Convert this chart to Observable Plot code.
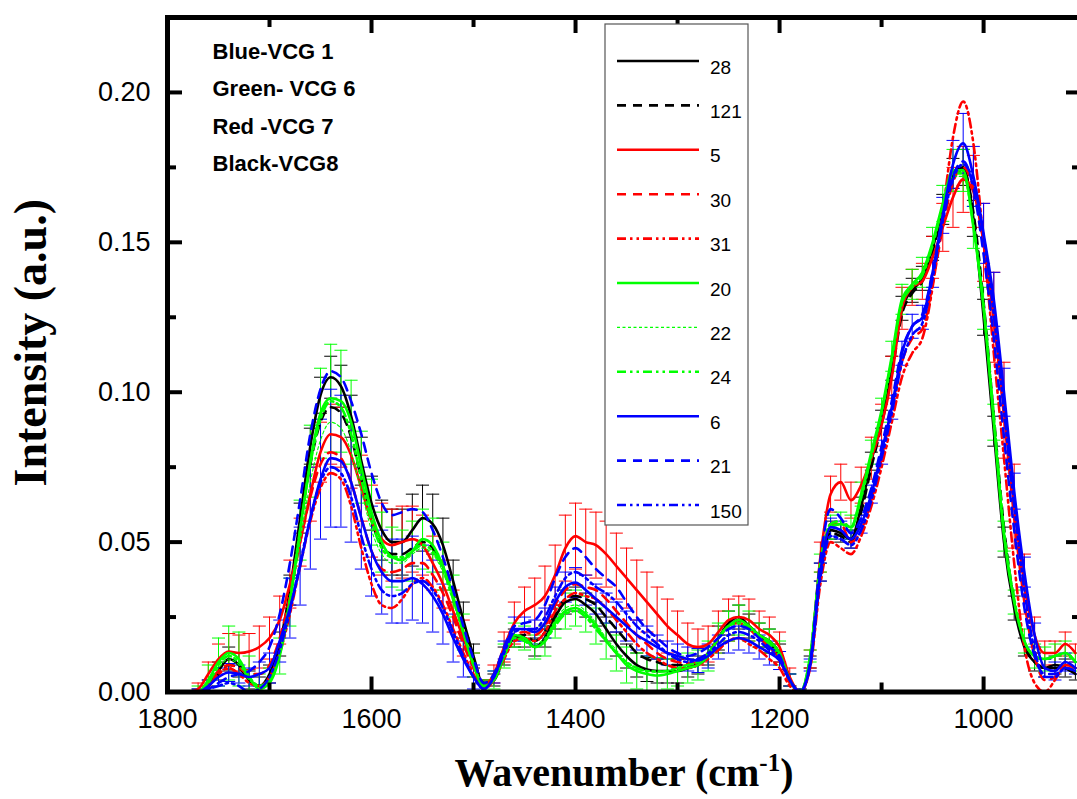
<!DOCTYPE html>
<html>
<head>
<meta charset="utf-8">
<script src="https://cdn.jsdelivr.net/npm/d3@7"></script>
<script src="https://cdn.jsdelivr.net/npm/@observablehq/plot@0.6"></script>
<style>
  html, body { margin: 0; padding: 0; background: #fff; }
  #chart { width: 1077px; height: 799px; overflow: hidden; }
</style>
</head>
<body>
<div id="chart"></div>
<script>
// Wavenumber grid (cm-1), shared by every spectrum
const wavenumber = [
  1780,1770,1760,1750,1740,1730,1720,1710,1700,1690,
  1680,1670,1660,1650,1640,1630,1620,1610,1600,1590,
  1580,1570,1560,1550,1540,1530,1520,1510,1500,1490,
  1480,1470,1460,1450,1440,1430,1420,1410,1400,1390,
  1380,1370,1360,1350,1340,1330,1320,1310,1300,1290,
  1280,1270,1260,1250,1240,1230,1220,1210,1200,1190,
  1180,1170,1160,1150,1140,1130,1120,1110,1100,1090,
  1080,1070,1060,1050,1040,1030,1020,1010,1000,990,
  980,970,960,950,940,930,920,910
];

// Mean intensity (a.u.) of each isolate
const isolate28 = [
  0,0.000,0.002,0.007,0.011,0.009,0.004,0.002,0.006,0.016,
  0.034,0.058,0.082,0.099,0.105,0.102,0.092,0.077,0.063,0.054,
  0.050,0.050,0.054,0.058,0.056,0.049,0.037,0.024,0.012,0.002,
  0.004,0.012,0.018,0.018,0.015,0.018,0.025,0.030,0.031,0.029,
  0.026,0.021,0.016,0.012,0.009,0.0075,0.007,0.007,0.007,0.008,
  0.009,0.012,0.018,0.023,0.025,0.022,0.019,0.017,0.013,0.004,
  0.000,0.010,0.040,0.054,0.053,0.051,0.062,0.077,0.091,0.108,
  0.128,0.134,0.138,0.148,0.161,0.173,0.175,0.158,0.125,0.087,
  0.050,0.028,0.015,0.010,0.008,0.009,0.008,0.006
];
const isolate121 = [
  0,0.000,0.002,0.006,0.009,0.008,0.004,0.002,0.005,0.015,
  0.032,0.055,0.076,0.090,0.095,0.093,0.085,0.071,0.057,0.049,
  0.046,0.046,0.048,0.050,0.048,0.042,0.033,0.022,0.011,0.003,
  0.004,0.012,0.018,0.019,0.017,0.020,0.026,0.031,0.032,0.031,
  0.029,0.025,0.021,0.017,0.013,0.011,0.010,0.009,0.009,0.009,
  0.010,0.013,0.018,0.022,0.024,0.022,0.019,0.016,0.012,0.004,
  0.000,0.010,0.041,0.053,0.052,0.050,0.060,0.075,0.089,0.106,
  0.126,0.133,0.137,0.147,0.160,0.172,0.174,0.160,0.130,0.092,
  0.055,0.030,0.016,0.010,0.008,0.008,0.008,0.006
];
const isolate5 = [
  0,0.001,0.006,0.011,0.0135,0.013,0.0135,0.015,0.018,0.024,
  0.036,0.050,0.066,0.080,0.086,0.085,0.079,0.068,0.057,0.051,
  0.049,0.050,0.051,0.049,0.043,0.036,0.027,0.018,0.009,0.002,
  0.006,0.015,0.023,0.027,0.029,0.032,0.039,0.048,0.052,0.050,
  0.049,0.046,0.042,0.038,0.034,0.030,0.026,0.022,0.019,0.016,
  0.015,0.016,0.020,0.024,0.025,0.024,0.021,0.019,0.015,0.005,
  0.000,0.011,0.045,0.066,0.070,0.064,0.069,0.078,0.089,0.105,
  0.128,0.135,0.137,0.145,0.155,0.165,0.171,0.167,0.150,0.125,
  0.094,0.062,0.036,0.019,0.013,0.013,0.016,0.013
];
const isolate30 = [
  0,0.000,0.003,0.007,0.009,0.008,0.006,0.006,0.009,0.018,
  0.032,0.050,0.065,0.076,0.080,0.078,0.070,0.058,0.047,0.041,
  0.040,0.041,0.043,0.043,0.039,0.033,0.025,0.016,0.008,0.002,
  0.005,0.013,0.019,0.020,0.019,0.022,0.029,0.034,0.036,0.035,
  0.034,0.031,0.027,0.023,0.019,0.016,0.013,0.011,0.010,0.0095,
  0.010,0.013,0.018,0.022,0.023,0.021,0.018,0.015,0.011,0.003,
  0.000,0.009,0.040,0.056,0.056,0.050,0.054,0.064,0.078,0.094,
  0.110,0.118,0.121,0.136,0.155,0.170,0.175,0.168,0.150,0.124,
  0.092,0.058,0.030,0.012,0.004,0.005,0.009,0.008
];
const isolate31 = [
  0,0.000,0.002,0.006,0.008,0.006,0.003,0.002,0.005,0.013,
  0.026,0.042,0.057,0.068,0.073,0.071,0.062,0.048,0.036,0.029,
  0.028,0.031,0.036,0.038,0.035,0.029,0.021,0.013,0.006,0.001,
  0.004,0.011,0.017,0.018,0.017,0.020,0.027,0.031,0.033,0.032,
  0.031,0.028,0.024,0.020,0.016,0.013,0.011,0.009,0.008,0.008,
  0.009,0.011,0.014,0.017,0.018,0.016,0.014,0.011,0.008,0.002,
  0.000,0.008,0.036,0.050,0.048,0.046,0.052,0.062,0.075,0.090,
  0.105,0.113,0.118,0.135,0.160,0.185,0.197,0.183,0.150,0.113,
  0.078,0.043,0.015,0.003,0.000,0.004,0.009,0.008
];
const isolate20 = [
  0,0.000,0.004,0.010,0.013,0.011,0.005,0.001,0.003,0.012,
  0.030,0.054,0.077,0.093,0.098,0.097,0.090,0.075,0.060,0.050,
  0.045,0.044,0.047,0.051,0.049,0.042,0.032,0.020,0.009,0.002,
  0.004,0.012,0.019,0.018,0.015,0.017,0.023,0.027,0.028,0.026,
  0.022,0.017,0.013,0.009,0.007,0.006,0.0055,0.006,0.007,0.008,
  0.009,0.012,0.018,0.022,0.024,0.022,0.019,0.017,0.013,0.004,
  0.000,0.012,0.043,0.055,0.056,0.055,0.066,0.080,0.094,0.112,
  0.131,0.136,0.140,0.150,0.163,0.174,0.174,0.155,0.128,0.090,
  0.052,0.030,0.017,0.012,0.011,0.012,0.013,0.010
];
const isolate22 = [
  0,0.000,0.003,0.008,0.011,0.009,0.004,0.002,0.004,0.013,
  0.029,0.050,0.070,0.084,0.090,0.088,0.080,0.067,0.054,0.046,
  0.043,0.043,0.046,0.048,0.046,0.040,0.030,0.019,0.009,0.002,
  0.004,0.012,0.018,0.018,0.016,0.018,0.024,0.028,0.029,0.027,
  0.023,0.018,0.014,0.010,0.008,0.007,0.007,0.007,0.008,0.009,
  0.010,0.013,0.018,0.022,0.024,0.022,0.019,0.017,0.013,0.004,
  0.000,0.011,0.042,0.055,0.056,0.054,0.064,0.078,0.092,0.110,
  0.129,0.135,0.139,0.149,0.162,0.172,0.172,0.156,0.130,0.093,
  0.055,0.031,0.017,0.012,0.011,0.012,0.012,0.010
];
const isolate24 = [
  0,0.000,0.003,0.009,0.012,0.010,0.005,0.002,0.004,0.013,
  0.031,0.054,0.076,0.091,0.097,0.095,0.086,0.071,0.057,0.048,
  0.045,0.045,0.047,0.049,0.047,0.041,0.031,0.020,0.009,0.002,
  0.004,0.012,0.018,0.017,0.015,0.017,0.022,0.026,0.027,0.025,
  0.021,0.017,0.013,0.010,0.008,0.007,0.0068,0.007,0.008,0.009,
  0.010,0.013,0.018,0.022,0.023,0.021,0.019,0.016,0.012,0.004,
  0.000,0.012,0.043,0.056,0.057,0.055,0.065,0.079,0.093,0.111,
  0.130,0.135,0.139,0.149,0.162,0.173,0.173,0.156,0.129,0.092,
  0.054,0.031,0.017,0.012,0.011,0.012,0.013,0.010
];
const isolate6 = [
  0,0.000,0.002,0.005,0.0065,0.006,0.005,0.006,0.008,0.017,
  0.028,0.042,0.058,0.071,0.078,0.077,0.070,0.058,0.047,0.040,
  0.037,0.037,0.038,0.036,0.032,0.026,0.018,0.011,0.005,0.001,
  0.005,0.014,0.021,0.021,0.020,0.023,0.030,0.035,0.0365,0.034,
  0.031,0.028,0.025,0.022,0.019,0.017,0.015,0.013,0.012,0.011,
  0.0105,0.012,0.015,0.017,0.018,0.017,0.015,0.013,0.0105,0.004,
  0.000,0.009,0.040,0.055,0.054,0.051,0.056,0.066,0.080,0.095,
  0.113,0.122,0.125,0.140,0.159,0.176,0.183,0.172,0.153,0.131,
  0.100,0.067,0.040,0.019,0.008,0.007,0.010,0.008
];
const isolate21 = [
  0,0.000,0.001,0.003,0.005,0.006,0.007,0.010,0.015,0.026,
  0.043,0.064,0.086,0.101,0.107,0.105,0.097,0.086,0.073,0.063,
  0.059,0.060,0.061,0.060,0.054,0.045,0.034,0.022,0.011,0.003,
  0.006,0.015,0.022,0.023,0.024,0.029,0.038,0.045,0.048,0.045,
  0.041,0.038,0.035,0.030,0.025,0.021,0.018,0.015,0.013,0.012,
  0.013,0.015,0.018,0.021,0.022,0.021,0.018,0.015,0.012,0.004,
  0.000,0.010,0.044,0.061,0.058,0.053,0.058,0.068,0.082,0.097,
  0.114,0.122,0.126,0.140,0.158,0.172,0.177,0.168,0.146,0.118,
  0.085,0.054,0.028,0.012,0.006,0.006,0.008,0.007
];
const isolate150 = [
  0,0.000,0.001,0.002,0.003,0.002,0.000,0.001,0.005,0.014,
  0.027,0.043,0.058,0.070,0.075,0.073,0.065,0.052,0.041,0.034,
  0.032,0.033,0.036,0.037,0.034,0.028,0.020,0.012,0.005,0.001,
  0.005,0.013,0.020,0.021,0.021,0.025,0.032,0.038,0.040,0.038,
  0.035,0.033,0.030,0.026,0.022,0.019,0.016,0.013,0.011,0.010,
  0.011,0.013,0.016,0.019,0.020,0.019,0.017,0.014,0.011,0.004,
  0.000,0.009,0.038,0.052,0.051,0.049,0.054,0.064,0.078,0.093,
  0.110,0.119,0.123,0.138,0.157,0.171,0.176,0.170,0.152,0.126,
  0.094,0.062,0.034,0.014,0.005,0.005,0.008,0.007
];

// Standard deviation (half error-bar length) for one isolate of each VCG
const sd28 = [
  0,0.001,0.002,0.003,0.004,0.004,0.003,0.003,0.003,0.004,
  0.005,0.005,0.006,0.006,0.007,0.007,0.007,0.008,0.009,0.010,
  0.011,0.011,0.012,0.011,0.010,0.009,0.007,0.006,0.004,0.002,
  0.002,0.003,0.003,0.003,0.003,0.003,0.004,0.004,0.004,0.004,
  0.004,0.004,0.004,0.004,0.004,0.004,0.004,0.004,0.004,0.003,
  0.003,0.003,0.004,0.004,0.004,0.004,0.004,0.004,0.003,0.002,
  0.001,0.002,0.003,0.003,0.003,0.003,0.003,0.003,0.003,0.004,
  0.004,0.004,0.004,0.004,0.005,0.005,0.006,0.006,0.006,0.005,
  0.005,0.004,0.003,0.003,0.003,0.003,0.003,0.002
];
const sd5 = [
  0,0.002,0.004,0.005,0.006,0.006,0.006,0.007,0.007,0.008,
  0.008,0.008,0.009,0.010,0.010,0.010,0.011,0.011,0.012,0.012,
  0.012,0.012,0.011,0.010,0.009,0.008,0.007,0.006,0.004,0.002,
  0.003,0.005,0.007,0.008,0.009,0.010,0.010,0.011,0.011,0.011,
  0.011,0.011,0.011,0.010,0.010,0.010,0.009,0.009,0.008,0.007,
  0.006,0.006,0.007,0.007,0.007,0.007,0.006,0.006,0.005,0.003,
  0.001,0.003,0.005,0.006,0.006,0.006,0.006,0.007,0.007,0.007,
  0.007,0.006,0.006,0.007,0.008,0.010,0.011,0.012,0.013,0.015,
  0.016,0.014,0.010,0.006,0.004,0.004,0.004,0.003
];
const sd20 = [
  0,0.002,0.005,0.008,0.009,0.009,0.007,0.005,0.005,0.006,
  0.008,0.010,0.012,0.015,0.018,0.017,0.014,0.012,0.011,0.010,
  0.010,0.010,0.010,0.010,0.009,0.008,0.007,0.006,0.004,0.002,
  0.003,0.004,0.004,0.004,0.004,0.005,0.005,0.006,0.006,0.006,
  0.006,0.006,0.006,0.006,0.006,0.006,0.006,0.005,0.005,0.005,
  0.005,0.005,0.005,0.005,0.005,0.005,0.004,0.004,0.004,0.002,
  0.001,0.002,0.003,0.004,0.004,0.004,0.004,0.004,0.004,0.005,
  0.005,0.005,0.005,0.005,0.006,0.007,0.007,0.007,0.007,0.006,
  0.005,0.004,0.004,0.004,0.004,0.004,0.004,0.003
];
const sd6 = [
  0,0.001,0.002,0.003,0.003,0.003,0.003,0.004,0.005,0.007,
  0.010,0.013,0.017,0.020,0.023,0.022,0.020,0.017,0.015,0.014,
  0.014,0.014,0.014,0.013,0.012,0.010,0.008,0.006,0.004,0.002,
  0.002,0.003,0.004,0.004,0.004,0.005,0.005,0.005,0.005,0.005,
  0.005,0.005,0.005,0.005,0.005,0.005,0.004,0.004,0.004,0.004,
  0.004,0.004,0.004,0.004,0.004,0.004,0.004,0.004,0.003,0.002,
  0.001,0.002,0.003,0.003,0.003,0.003,0.003,0.003,0.004,0.004,
  0.004,0.004,0.004,0.005,0.006,0.008,0.010,0.010,0.010,0.009,
  0.008,0.006,0.005,0.004,0.003,0.003,0.003,0.002
];

// Axis ticks
const xMajorTicks = [1800, 1600, 1400, 1200, 1000];
const xMinorTicks = [1700, 1500, 1300, 1100];
const yMajorTicks = [0, 0.05, 0.10, 0.15, 0.20];
const yMinorTicks = [0.025, 0.075, 0.125, 0.175];

// Legend labels, colours and line styles (legend order)
const isolateLabels = ["28", "121", "5", "30", "31", "20", "22", "24", "6", "21", "150"];
const isolateColors = ["#000000", "#000000", "#ff0000", "#ff0000", "#ff0000",
                       "#00ff00", "#00ff00", "#00ff00", "#0000ff", "#0000ff", "#0000ff"];
const isolateValues = [isolate28, isolate121, isolate5, isolate30, isolate31,
                       isolate20, isolate22, isolate24, isolate6, isolate21, isolate150];
const isolateErrors = [sd28, null, sd5, null, null, sd20, null, null, sd6, null, null];
const SOLID = null, DASH = "9,7", DASHDOTDOT = "9,4,2.5,4,2.5,4", SHORTDASH = "3,2.5";
const isolateDash = [SOLID, DASH, SOLID, DASH, DASHDOTDOT, SOLID, SHORTDASH, DASHDOTDOT, SOLID, DASH, DASHDOTDOT];
const isolateWidth = [2.6, 2.6, 2.6, 2.6, 2.6, 2.6, 1.1, 2.6, 2.6, 2.6, 2.6];

const groupNotes = ["Blue-VCG 1", "Green- VCG 6", "Red -VCG 7", "Black-VCG8"];
const xTitle = "Wavenumber (cm-1)";
const yTitle = "Intensity (a.u.)";

// Horizontal cap for error bars, drawn as a dot symbol
const capSymbol = {
  draw(context, size) {
    const h = Math.sqrt(size / Math.PI);
    context.moveTo(-h, 0);
    context.lineTo(h, 0);
  }
};

const marks = [];

// Error bars
isolateValues.forEach((vals, k) => {
  const err = isolateErrors[k];
  if (!err) return;
  const rows = wavenumber.map((w, i) => ({w, lo: Math.max(0, vals[i] - err[i]), hi: vals[i] + err[i], e: err[i]}))
    .filter(d => d.e > 0);
  const c = isolateColors[k];
  marks.push(Plot.ruleX(rows, {x: "w", y1: "lo", y2: "hi", stroke: c, strokeWidth: 1, clip: true}));
  marks.push(Plot.dot(rows, {x: "w", y: "hi", symbol: capSymbol, r: 6.5, stroke: c, fill: "none", strokeWidth: 1, clip: true}));
  marks.push(Plot.dot(rows, {x: "w", y: "lo", symbol: capSymbol, r: 6.5, stroke: c, fill: "none", strokeWidth: 1, clip: true}));
});

// Spectra
isolateValues.forEach((vals, k) => {
  const rows = wavenumber.map((w, i) => ({w, v: vals[i]}));
  marks.push(Plot.line(rows, {
    x: "w", y: "v", stroke: isolateColors[k], strokeWidth: isolateWidth[k],
    strokeDasharray: isolateDash[k], curve: "monotone-x", clip: true
  }));
});

// Tick labels
marks.push(Plot.axisX(xMajorTicks, {anchor: "bottom", tickSize: 0, tickPadding: 17, fontSize: 27, label: null, tickFormat: d => String(d)}));
marks.push(Plot.axisY(yMajorTicks, {anchor: "left", tickSize: 0, tickPadding: 17, fontSize: 27, label: null, tickFormat: d3.format(".2f")}));

// Inward tick marks on all four sides
for (const anchor of ["bottom", "top"]) {
  marks.push(Plot.axisX(xMajorTicks, {anchor, tickSize: -15, strokeWidth: 4, fill: "none", label: null}));
  marks.push(Plot.axisX(xMinorTicks, {anchor, tickSize: -9, strokeWidth: 4, fill: "none", label: null}));
}
for (const anchor of ["left", "right"]) {
  marks.push(Plot.axisY(yMajorTicks, {anchor, tickSize: -15, strokeWidth: 4, fill: "none", label: null}));
  marks.push(Plot.axisY(yMinorTicks, {anchor, tickSize: -9, strokeWidth: 4, fill: "none", label: null}));
}

marks.push(Plot.frame({stroke: "#000", strokeWidth: 5}));

// Group notes, top-left inside the frame
marks.push(Plot.text([groupNotes.join("\n")], {
  frameAnchor: "top-left", dx: 45, dy: 15, textAnchor: "start", lineAnchor: "top",
  lineHeight: 1.7, fontSize: 22, fontWeight: "bold", fill: "#000"
}));

// Axis titles
marks.push(Plot.text([xTitle], {
  frameAnchor: "bottom", dy: 94, textAnchor: "middle", fontSize: 40, fontWeight: "bold",
  fontFamily: "'Liberation Serif', 'Times New Roman', serif", fill: "#000"
}));
marks.push(Plot.text([yTitle], {
  frameAnchor: "left", dx: -136, dy: -12, rotate: -90, textAnchor: "middle", fontSize: 46, fontWeight: "bold",
  fontFamily: "'Liberation Serif', 'Times New Roman', serif", fill: "#000"
}));

const svg = Plot.plot({
  width: 1077,
  height: 799,
  marginLeft: 167,
  marginRight: -3,
  marginTop: 17,
  marginBottom: 107.5,
  x: {domain: [1800, 905]},
  y: {domain: [0, 0.225]},
  style: {fontFamily: "'Liberation Sans', Arial, sans-serif", color: "#000", background: "#fff", overflow: "hidden"},
  marks
});

// Superscript in the x-axis title
d3.select(svg).selectAll("text").each(function () {
  if (this.textContent === xTitle) {
    const t = d3.select(this);
    t.text(null);
    t.append("tspan").text("Wavenumber (cm");
    t.append("tspan").attr("dy", -15).attr("font-size", 25).text("-1");
    t.append("tspan").attr("dy", 15).text(")");
  }
});

// Legend box with line-style samples
const lg = d3.select(svg).append("g").attr("class", "legend").attr("text-anchor", "start");
lg.append("rect").attr("x", 605).attr("y", 24).attr("width", 143).attr("height", 501)
  .attr("fill", "#fff").attr("stroke", "#555").attr("stroke-width", 1.2);
isolateLabels.forEach((lab, i) => {
  const y = 61 + 44.4 * i;
  lg.append("line").attr("x1", 617).attr("x2", 699).attr("y1", y).attr("y2", y)
    .attr("stroke", isolateColors[i]).attr("stroke-width", isolateWidth[i])
    .attr("stroke-dasharray", isolateDash[i]);
  lg.append("text").attr("x", 710).attr("y", y + 6).attr("dy", "0.35em")
    .attr("text-anchor", "start")
    .attr("font-size", 19).attr("fill", "#000")
    .attr("font-family", "'Liberation Sans', Arial, sans-serif").text(lab);
});

document.getElementById("chart").appendChild(svg);
</script>
</body>
</html>
